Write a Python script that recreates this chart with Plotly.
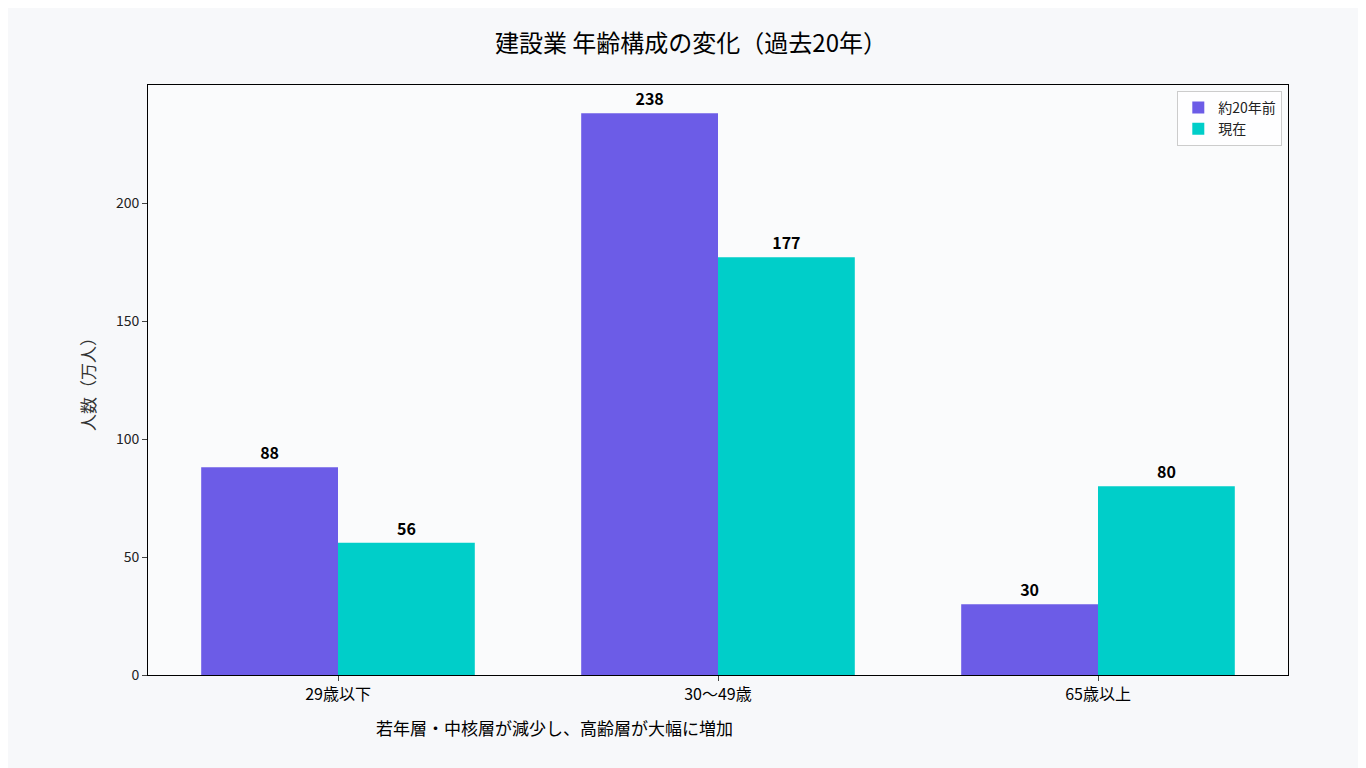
import plotly.graph_objects as go

categories = ['29歳以下', '30〜49歳', '65歳以上']
before_20y = [88, 238, 30]
current = [56, 177, 80]
series_names = ['約20年前', '現在']
note = '若年層・中核層が減少し、高齢層が大幅に増加'

font = "Noto Sans CJK JP"

fig = go.Figure()
fig.add_trace(go.Bar(x=categories, y=before_20y, name=series_names[0],
                     marker=dict(color='#6C5CE7', line_width=0),
                     text=[f'<b>{v}</b>' for v in before_20y], textposition='outside',
                     textfont=dict(size=16, color='black', family=font), cliponaxis=False))
fig.add_trace(go.Bar(x=categories, y=current, name=series_names[1],
                     marker=dict(color='#00CEC9', line_width=0),
                     text=[f'<b>{v}</b>' for v in current], textposition='outside',
                     textfont=dict(size=16, color='black', family=font), cliponaxis=False))

fig.add_annotation(text=note, xref='paper', yref='paper', x=0.357, y=0,
                   yshift=-52, showarrow=False, xanchor='center', yanchor='middle',
                   font=dict(size=17, color='black'))

fig.update_layout(
    width=1366, height=768,
    barmode='group', bargap=0.28, bargroupgap=0,
    paper_bgcolor='#f7f8fa', plot_bgcolor='rgba(255,255,255,0.4)',
    font=dict(family=font, size=14, color='#222'),
    title=dict(text='建設業 年齢構成の変化（過去20年）', x=0.5, y=0.965, xanchor='center',
               font=dict(size=24, color='black')),
    margin=dict(l=140, r=86, t=77, b=101),
    legend=dict(x=0.995, y=0.99, xanchor='right', yanchor='top',
                bgcolor='rgba(255,255,255,0.8)', bordercolor='#ccc', borderwidth=1,
                font=dict(size=14)),
    xaxis=dict(range=[-0.5, 2.5], showline=True, linecolor='black', mirror=True,
               ticks='outside', tickfont=dict(size=16, color='black')),
    yaxis=dict(range=[0, 250], showline=True, linecolor='black', mirror=True,
               ticks='outside', showgrid=False, zeroline=False, tickvals=[0, 50, 100, 150, 200],
               title=dict(text='人数（万人）', font=dict(size=17, color='#333'))),
)

fig.write_html("out.html")
